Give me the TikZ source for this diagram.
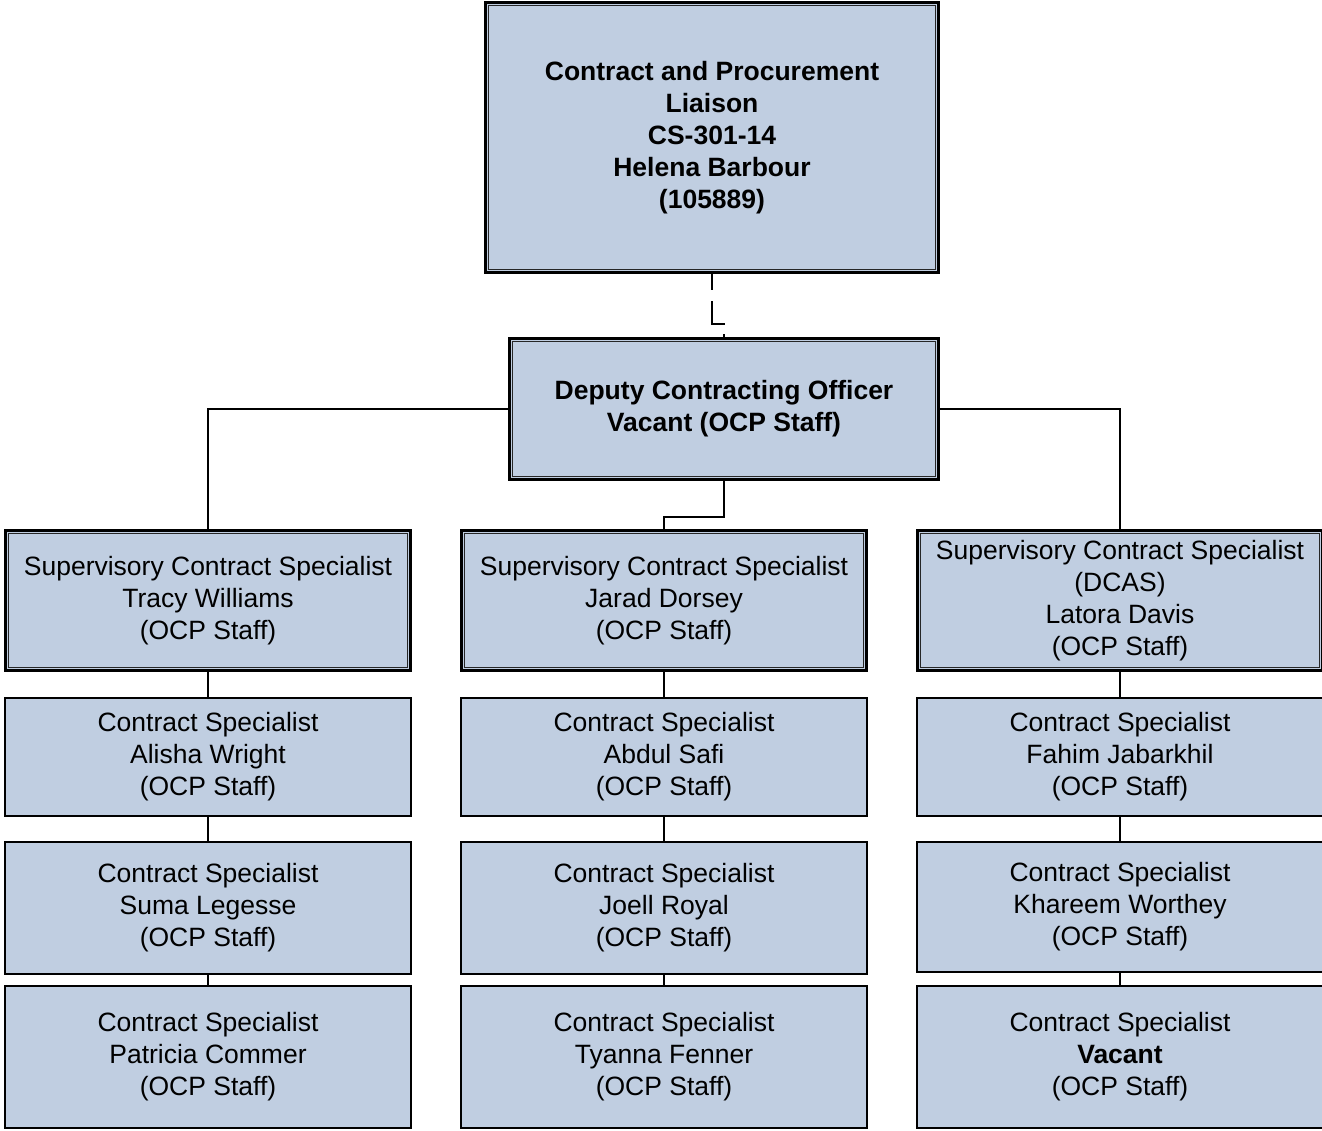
\documentclass[tikz,border=0pt]{standalone}
\usepackage{fontspec}
\setmainfont{Liberation Sans}
\usetikzlibrary{backgrounds}
\definecolor{boxblue}{RGB}{192,206,225}
\tikzset{
  dbox/.style={rectangle, fill=boxblue, draw=black, line width=3pt, inner sep=0pt, align=center, font=\fontsize{26.5}{32}\selectfont},
  sbox/.style={rectangle, fill=boxblue, draw=black, line width=2pt, inner sep=0pt, align=center, minimum width=406pt, font=\fontsize{26.5}{32}\selectfont},
  supbox/.style={dbox, minimum width=405pt, minimum height=140pt},
  innerline/.style={draw=black!85, line width=1.4pt},
  conn/.style={draw=black, line width=2pt},
}
\begin{document}
\begin{tikzpicture}[x=1pt,y=-1pt]
\useasboundingbox (0,0) rectangle (1322,1131);
% top
\node[dbox, minimum width=453pt, minimum height=270pt] (top) at (712,137.5) {\textbf{Contract and Procurement}\\\textbf{Liaison}\\\textbf{CS-301-14}\\\textbf{Helena Barbour}\\\textbf{(105889)}};
\node[dbox, minimum width=429pt, minimum height=141pt] (dep) at (724,409) {\textbf{Deputy Contracting Officer}\\\textbf{Vacant (OCP Staff)}};
% supervisory
\node[supbox] (supL) at (208,600.5) {Supervisory Contract Specialist\\Tracy Williams\\(OCP Staff)};
\node[supbox] (supM) at (664,600.5) {Supervisory Contract Specialist\\Jarad Dorsey\\(OCP Staff)};
\node[supbox] (supR) at (1120,600.5) {Supervisory Contract Specialist\\(DCAS)\\Latora Davis\\(OCP Staff)};
\foreach \n in {top,dep,supL,supM,supR}
  \draw[innerline] ([shift={(4.3,4.3)}]\n.north west) rectangle ([shift={(-4.3,-4.3)}]\n.south east);
% left column
\node[sbox, minimum height=118pt] (l1) at (208,757) {Contract Specialist\\Alisha Wright\\(OCP Staff)};
\node[sbox, minimum height=132pt] (l2) at (208,908) {Contract Specialist\\Suma Legesse\\(OCP Staff)};
\node[sbox, minimum height=142pt] (l3) at (208,1057) {Contract Specialist\\Patricia Commer\\(OCP Staff)};
% middle column
\node[sbox, minimum height=118pt] (m1) at (664,757) {Contract Specialist\\Abdul Safi\\(OCP Staff)};
\node[sbox, minimum height=132pt] (m2) at (664,908) {Contract Specialist\\Joell Royal\\(OCP Staff)};
\node[sbox, minimum height=142pt] (m3) at (664,1057) {Contract Specialist\\Tyanna Fenner\\(OCP Staff)};
% right column
\node[sbox, minimum height=118pt] (r1) at (1120,757) {Contract Specialist\\Fahim Jabarkhil\\(OCP Staff)};
\node[sbox, minimum height=130pt] (r2) at (1120,907) {Contract Specialist\\Khareem Worthey\\(OCP Staff)};
\node[sbox, minimum height=142pt] (r3) at (1120,1057) {Contract Specialist\\\textbf{Vacant}\\(OCP Staff)};
% junction coordinates
\coordinate (dj) at (712,324);
\coordinate (mj) at (664,517);
\begin{scope}[on background layer]
  \draw[conn, dash pattern=on 16.5pt off 11pt on 36pt off 9pt on 10pt] (top.south) -- (dj) -| (dep.north);
  \draw[conn] (dep.west) -| (supL.north);
  \draw[conn] (dep.east) -| (supR.north);
  \draw[conn] (dep.south) |- (mj) -- (supM.north);
  \draw[conn] (supL) -- (l3);
  \draw[conn] (supM) -- (m3);
  \draw[conn] (supR) -- (r3);
\end{scope}
\end{tikzpicture}
\end{document}
